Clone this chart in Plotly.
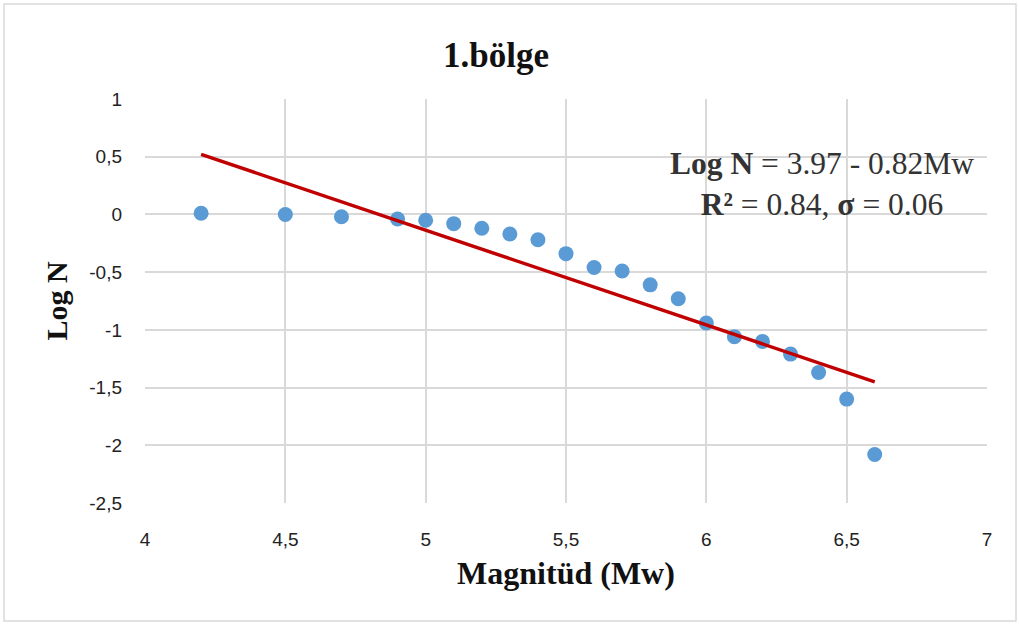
import plotly.graph_objects as go

magnitude = [4.2, 4.5, 4.7, 4.9, 5.0, 5.1, 5.2, 5.3, 5.4, 5.5, 5.6, 5.7, 5.8, 5.9, 6.0, 6.1, 6.2, 6.3, 6.4, 6.5, 6.6]
log_n = [0.01, 0.0, -0.02, -0.04, -0.05, -0.08, -0.12, -0.17, -0.22, -0.34, -0.46, -0.49, -0.61, -0.73, -0.94, -1.06, -1.10, -1.21, -1.37, -1.60, -2.08]
trend_x = [4.2, 6.6]
trend_y = [0.52, -1.45]

x_ticks = [4, 4.5, 5, 5.5, 6, 6.5, 7]
x_tick_labels = ["4", "4,5", "5", "5,5", "6", "6,5", "7"]
y_ticks = [1, 0.5, 0, -0.5, -1, -1.5, -2, -2.5]
y_tick_labels = ["1", "0,5", "0", "-0,5", "-1", "-1,5", "-2", "-2,5"]

W, H = 1019, 625
L, R, T, B = 145, 32, 99, 122
pw, ph = W - L - R, H - T - B

def px(x):
    return (x - L) / pw

def py(y):
    return (H - B - y) / ph

fig = go.Figure()
fig.add_trace(go.Scatter(x=magnitude, y=log_n, mode="markers",
                         marker=dict(color="#5b9bd5", size=15), showlegend=False))
fig.add_trace(go.Scatter(x=trend_x, y=trend_y, mode="lines",
                         line=dict(color="#c00000", width=3.5), showlegend=False))

tickfont = dict(family="Liberation Sans Narrow, Liberation Sans, Arial", size=19, color="#222")
serif = "Liberation Serif, Times New Roman"
fig.update_xaxes(range=[4, 7], tickvals=x_ticks, ticktext=x_tick_labels,
                 showgrid=True, gridcolor="#d9d9d9", gridwidth=1.5,
                 zeroline=False, showline=False, tickfont=tickfont, ticks="",
                 ticklabelstandoff=23,
                 title=dict(text="<b>Magnitüd (Mw)</b>", standoff=12,
                            font=dict(family=serif, size=32, color="#111")))
fig.update_yaxes(range=[-2.5, 1], tickvals=y_ticks, ticktext=y_tick_labels,
                 showgrid=True, gridcolor="#d9d9d9", gridwidth=1.5,
                 zeroline=False, showline=False, tickfont=tickfont, ticks="",
                 ticklabelstandoff=22,
                 title=dict(text="<b>Log N</b>", standoff=12,
                            font=dict(family=serif, size=30, color="#111")))

fig.update_layout(
    width=W, height=H, autosize=False,
    margin=dict(l=L, r=R, t=T, b=B, autoexpand=False),
    paper_bgcolor="white", plot_bgcolor="white",
    title=dict(text="<b>1.bölge</b>", xref="container", x=496 / W, xanchor="center",
               yref="container", y=1 - 55 / H, yanchor="middle",
               font=dict(family=serif, size=35, color="#111")),
    annotations=[dict(
        text="<b>Log N</b> = 3.97 - 0.82Mw<br><b>R²</b> = 0.84, <b>σ</b> = 0.06",
        xref="paper", yref="paper", x=px(822), y=py(184), xanchor="center", yanchor="middle",
        align="center", showarrow=False,
        font=dict(family=serif, size=31.5, color="#333"))],
    shapes=[dict(type="rect", xref="paper", yref="paper",
                 x0=px(4), x1=px(1016), y0=py(621), y1=py(4),
                 line=dict(color="#d9d9d9", width=1.5), layer="below")],
)
fig.write_html("out.html", config={"displayModeBar": False},
               post_script="document.body.style.margin='0';")
